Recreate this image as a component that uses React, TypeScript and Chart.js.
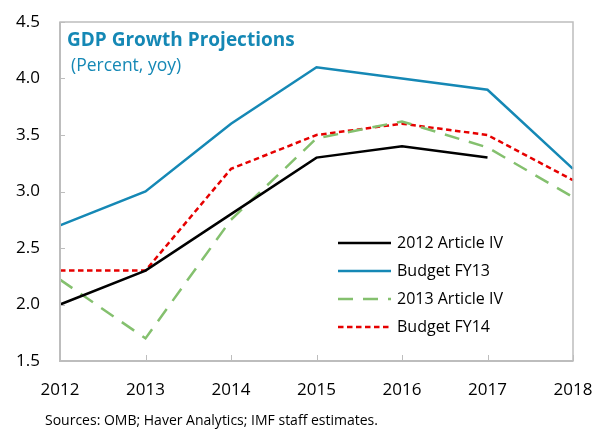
import React, { useEffect, useRef } from "react";
import { Chart, registerables } from "chart.js";

Chart.register(...registerables);

const years = ["2012", "2013", "2014", "2015", "2016", "2017", "2018"];
const article2012 = [2.0, 2.3, 2.8, 3.3, 3.4, 3.3, null];
const budgetFY13 = [2.7, 3.0, 3.6, 4.1, 4.0, 3.9, 3.2];
const article2013 = [2.22, 1.7, 2.75, 3.47, 3.62, 3.39, 2.95];
const budgetFY14 = [2.3, 2.3, 3.2, 3.5, 3.6, 3.5, 3.1];

const FONT = '"Open Sans", "Noto Sans", sans-serif';
const BLUE = "#1588b5";
const BLACK = "#000000";
const GREEN = "#84c06e";
const RED = "#e60000";
const AXIS = "#bdbdbd";

const overlayPlugin = {
  id: "overlay",
  afterDraw(chart: any) {
    const { ctx, chartArea, scales } = chart;
    const { left, right, top, bottom } = chartArea;
    ctx.save();
    // box
    ctx.strokeStyle = AXIS;
    ctx.lineWidth = 1.5;
    ctx.strokeRect(left, top, right - left, bottom - top);
    ctx.lineWidth = 2;
    ctx.beginPath();
    ctx.moveTo(left, top);
    ctx.lineTo(left, bottom);
    ctx.lineTo(right, bottom);
    ctx.stroke();
    // inner ticks
    ctx.lineWidth = 1;
    ctx.beginPath();
    scales.x.ticks.forEach((t: any) => {
      const x = Math.round(scales.x.getPixelForValue(t.value)) + 0.5;
      ctx.moveTo(x, bottom);
      ctx.lineTo(x, bottom - 6);
    });
    scales.y.ticks.forEach((t: any) => {
      const y = Math.round(scales.y.getPixelForValue(t.value)) + 0.5;
      ctx.moveTo(left, y);
      ctx.lineTo(left + 5, y);
    });
    ctx.stroke();

    // tick labels
    ctx.fillStyle = "#000";
    ctx.font = `17px ${FONT}`;
    ctx.textBaseline = "middle";
    ctx.textAlign = "center";
    scales.x.ticks.forEach((t: any) => {
      ctx.fillText(years[t.value], scales.x.getPixelForValue(t.value), bottom + 29);
    });
    ctx.textAlign = "right";
    scales.y.ticks.forEach((t: any) => {
      ctx.fillText(Number(t.value).toFixed(1), left - 20, scales.y.getPixelForValue(t.value));
    });

    // title
    ctx.fillStyle = BLUE;
    ctx.textBaseline = "alphabetic";
    ctx.textAlign = "left";
    ctx.font = `bold 19px ${FONT}`;
    ctx.fillText("GDP Growth Projections", 67, 46);
    ctx.font = `17.5px ${FONT}`;
    ctx.fillText("(Percent, yoy)", 71, 71);

    // legend
    const items = [
      { label: "2012 Article IV", color: BLACK, dash: [] as number[] },
      { label: "Budget FY13", color: BLUE, dash: [] as number[] },
      { label: "2013 Article IV", color: GREEN, dash: [15, 10] },
      { label: "Budget FY14", color: RED, dash: [5.5, 3.5] },
    ];
    const lx0 = 338;
    const lx1 = 391;
    let ly = 243;
    items.forEach((it) => {
      ctx.strokeStyle = it.color;
      ctx.lineWidth = 2.5;
      ctx.setLineDash(it.dash);
      ctx.beginPath();
      ctx.moveTo(lx0, ly);
      ctx.lineTo(lx1, ly);
      ctx.stroke();
      ctx.setLineDash([]);
      ctx.fillStyle = "#000";
      ctx.font = `16px ${FONT}`;
      ctx.textBaseline = "middle";
      ctx.fillText(it.label, 397, ly);
      ly += 28;
    });

    // source
    ctx.fillStyle = "#000";
    ctx.font = `14px ${FONT}`;
    ctx.textBaseline = "alphabetic";
    ctx.fillText("Sources: OMB; Haver Analytics; IMF staff estimates.", 45, 425);
    ctx.restore();
  },
};

export default function App() {
  const ref = useRef<HTMLCanvasElement>(null);
  useEffect(() => {
    if (!ref.current) return;
    const chart = new Chart(ref.current, {
      type: "line",
      data: {
        labels: years,
        datasets: [
          { label: "2012 Article IV", data: article2012, borderColor: BLACK, borderWidth: 2.5 },
          { label: "Budget FY13", data: budgetFY13, borderColor: BLUE, borderWidth: 2.5 },
          { label: "2013 Article IV", data: article2013, borderColor: GREEN, borderWidth: 2.5, borderDash: [15, 10] },
          { label: "Budget FY14", data: budgetFY14, borderColor: RED, borderWidth: 2.5, borderDash: [5.5, 3.5] },
        ].map((d) => ({ ...d, pointRadius: 0, tension: 0, fill: false, spanGaps: false })),
      },
      options: {
        animation: false,
        responsive: false,
        layout: { padding: { left: 0, top: 22, right: 24, bottom: 0 } },
        plugins: { legend: { display: false }, tooltip: { enabled: false } },
        scales: {
          x: {
            offset: false,
            grid: { display: false, drawTicks: false },
            border: { display: false },
            ticks: { display: false },
            afterFit: (s: any) => { s.height = 68; },
          },
          y: {
            min: 1.5,
            max: 4.5,
            grid: { display: false, drawTicks: false },
            border: { display: false },
            ticks: { display: false, stepSize: 0.5 },
            afterFit: (s: any) => { s.width = 60; },
          },
        },
      },
      plugins: [overlayPlugin],
    });
    return () => chart.destroy();
  }, []);
  return (
    <div style={{ position: "fixed", left: 0, top: 0, width: 597, height: 429, background: "#fff" }}>
      <canvas ref={ref} width={597} height={429} style={{ width: 597, height: 429 }} />
    </div>
  );
}
